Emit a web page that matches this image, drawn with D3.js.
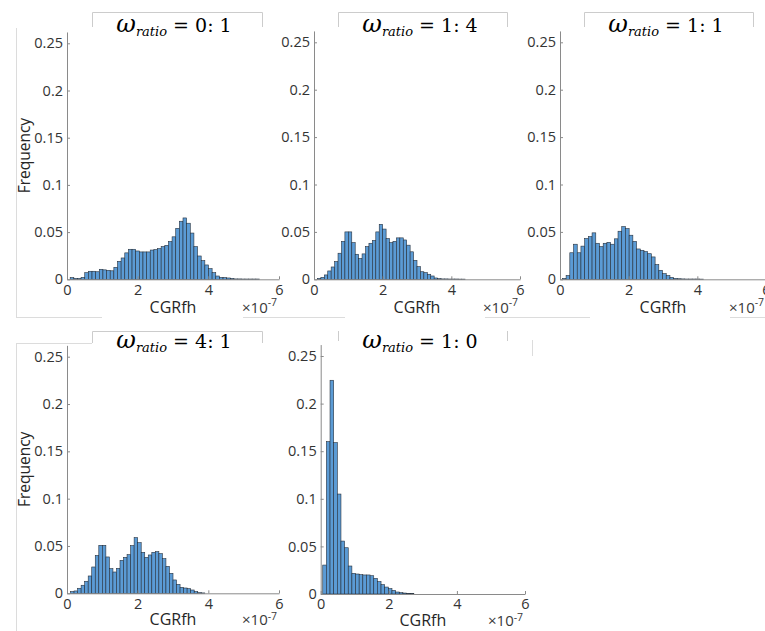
<!DOCTYPE html>
<html><head><meta charset="utf-8">
<script src="https://cdn.jsdelivr.net/npm/d3@7"></script>
<style>body{margin:0;background:#fff}svg{display:block}</style>
</head><body><svg id="c" width="765" height="631"></svg>
<script>
// ---------------- data ----------------
const ratioLabels = ["0: 1", "1: 4", "1: 1", "4: 1", "1: 0"];
const xTicks = [0, 2, 4, 6];
const xTickLabels = ["0", "2", "4", "6"];
const yTicks = [0, 0.05, 0.1, 0.15, 0.2, 0.25];
const yTickLabels = ["0", "0.05", "0.1", "0.15", "0.2", "0.25"];
const xLabel = "CGRfh";
const yLabel = "Frequency";
// bin edges in units of 1e-7
const binStart = [0.09, 0.1, 0.07, 0.1, 0.06];
const binWidth = [0.103, 0.1, 0.108, 0.1, 0.107];
const freq01 = [0.0018,0.001,0.001,0.002,0.007,0.0085,0.0085,0.008,0.0106,0.01,0.0095,0.009,0.0127,0.019,0.0226,0.028,0.0318,0.0318,0.030,0.029,0.029,0.029,0.031,0.0315,0.0325,0.0346,0.036,0.040,0.045,0.054,0.0615,0.065,0.0594,0.049,0.0346,0.0247,0.0198,0.0152,0.0113,0.007,0.0035,0.002,0.0018,0.0014,0.001,0.0004,0.0004,0.0003,0.0003,0.0003,0.0003,0.0003];
const freq14 = [0.001,0.002,0.0046,0.0088,0.013,0.0187,0.0275,0.040,0.050,0.050,0.0387,0.0264,0.022,0.0268,0.0345,0.038,0.041,0.050,0.058,0.053,0.043,0.0387,0.040,0.0437,0.0437,0.0415,0.036,0.029,0.020,0.0134,0.008,0.007,0.0053,0.0035,0.0014,0.0007,0.0004,0.0004,0.0003,0.0003,0.0003,0.0002,0.0002];
const freq11 = [0.001,0.004,0.028,0.037,0.028,0.035,0.043,0.045,0.049,0.038,0.0345,0.038,0.039,0.037,0.0427,0.0507,0.0556,0.0535,0.0465,0.040,0.032,0.0306,0.0292,0.027,0.0236,0.0155,0.0095,0.006,0.004,0.002,0.001,0.0006,0.0004,0.0003,0.0003,0.0003,0.0003,0.0002];
const freq41 = [0.0018,0.0025,0.0053,0.0085,0.0127,0.0183,0.0278,0.040,0.0507,0.0507,0.0384,0.026,0.0225,0.0264,0.0348,0.038,0.0408,0.0504,0.0588,0.0535,0.0433,0.038,0.0405,0.0433,0.044,0.0419,0.0366,0.0285,0.0211,0.0141,0.0095,0.0063,0.0056,0.0049,0.0035,0.0018,0.0007,0.0004];
const freq10 = [0.0304,0.160,0.2245,0.159,0.105,0.0556,0.0486,0.0294,0.0217,0.021,0.0203,0.020,0.020,0.0192,0.0164,0.013,0.0098,0.0073,0.0056,0.0038,0.0021,0.0014,0.001,0.0006,0.0004];
const seriesList = [freq01, freq14, freq11, freq41, freq10];

// ---------------- layout ----------------
const layout = [
  {x0:67,    x1:279, y0:279.3, y25:43.3,  tx:174, ty:32.3,  lab:34, sup:-7, box:[92,262,12,27,true],  ylab:true},
  {x0:314,   x1:520, y0:279.3, y25:42.3,  tx:420, ty:32.3,  lab:34, sup:-7, box:[338,507,12,27,true]},
  {x0:560,   x1:766, y0:279.3, y25:42.3,  tx:666, ty:32.3,  lab:34, sup:-7, box:[584,753,12,27,true]},
  {x0:67,    x1:279, y0:593.3, y25:356.7, tx:174, ty:348.3, lab:32, sup:-5, box:[92,262,331,343,true], ylab:true},
  {x0:320.7, x1:525, y0:594,   y25:356,   tx:420, ty:348.3, lab:31.5, sup:-4.5, box:[338,507,331,341,false]}
];
const FONT = "'Open Sans', 'DejaVu Sans', sans-serif";
const svg = d3.select("#c");

// faint screenshot frame lines
const frame = svg.append("g").attr("stroke", "#dcdcdc").attr("stroke-width", 1).attr("fill", "none");
[[16.5,28,16.5,317],[16,317.5,102,317.5],[243,317.5,345,317.5],[485,317.5,590,317.5],[730,317.5,765,317.5],
 [16.5,343,16.5,631],[16,343.5,92,343.5],[532.5,340,532.5,356]].forEach(l=>{
  frame.append("line").attr("x1",l[0]).attr("y1",l[1]).attr("x2",l[2]).attr("y2",l[3]);
});

layout.forEach((L, p) => {
  const data = seriesList[p];
  const g = svg.append("g");
  const ymax = 0.262;
  const x = d3.scaleLinear().domain([0, 6]).range([L.x0, L.x1]);
  const y = d3.scaleLinear().domain([0, ymax]).range([L.y0, L.y0 - ymax * (L.y0 - L.y25) / 0.25]);

  // title box (light frame)
  const b = L.box;
  const bp = b[4] ? `M${b[0]+0.5},${b[3]}V${b[2]+0.5}H${b[1]+0.5}V${b[3]}` : `M${b[0]+0.5},${b[3]}V${b[2]}M${b[1]+0.5},${b[2]}V${b[3]}`;
  g.append("path").attr("d", bp).attr("fill", "none").attr("stroke", "#cccccc").attr("stroke-width", 1);

  // bars
  const bins = data.map((v, i) => ({x0: binStart[p] + i * binWidth[p], x1: binStart[p] + (i + 1) * binWidth[p], v}));
  g.append("g").selectAll("rect").data(bins).join("rect")
    .attr("x", d => x(d.x0)).attr("width", d => x(d.x1) - x(d.x0))
    .attr("y", d => y(d.v)).attr("height", d => y(0) - y(d.v))
    .attr("fill", "#5b9bd5").attr("stroke", "#26303c").attr("stroke-width", 0.6);

  // axes
  const yAxis = d3.axisLeft(y).tickValues(yTicks).tickFormat((d, i) => yTickLabels[i])
    .tickSizeInner(-3).tickSizeOuter(0).tickPadding(4);
  const xAxis = d3.axisBottom(x).tickValues(xTicks).tickFormat((d, i) => xTickLabels[i])
    .tickSizeInner(-3).tickSizeOuter(0).tickPadding(5);
  const ya = g.append("g").attr("transform", `translate(${L.x0},0)`).call(yAxis);
  const xa = g.append("g").attr("transform", `translate(0,${L.y0})`).call(xAxis);
  [ya, xa].forEach(a => {
    a.select(".domain").attr("stroke", "#8a8a8a");
    a.selectAll(".tick line").attr("stroke", "#8a8a8a");
    a.selectAll(".tick text").attr("fill", "#333333").style("font-family", FONT).style("font-size", "14.5px");
  });

  // x label and exponent
  g.append("text").attr("x", (L.x0 + L.x1) / 2).attr("y", L.y0 + L.lab).attr("text-anchor", "middle")
    .style("font-family", FONT).style("font-size", "16px").attr("fill", "#262626").text(xLabel);
  const ex = g.append("text").attr("x", L.x1 - 37).attr("y", L.y0 + L.lab)
    .style("font-family", FONT).style("font-size", "15px").attr("fill", "#3a3a3a");
  ex.append("tspan").text("\u00d710");
  ex.append("tspan").attr("dy", L.sup).style("font-size", "10.5px").text("-7");

  // y label
  if (L.ylab) {
    const cy = (y(0) + y(ymax)) / 2;
    g.append("text").attr("transform", `translate(30,${cy}) rotate(-90)`).attr("text-anchor", "middle")
      .style("font-family", FONT).style("font-size", "15.5px").attr("fill", "#262626").text(yLabel);
  }

  // title
  const t = g.append("text").attr("x", L.tx).attr("y", L.ty).attr("text-anchor", "middle")
    .style("font-family", "'DejaVu Serif', 'Liberation Serif', serif").style("font-size", "19px").attr("fill", "#000");
  t.append("tspan").style("font-style", "italic").style("font-size", "24px").text("\u03c9");
  t.append("tspan").style("font-style", "italic").style("font-size", "13px").attr("dy", 4).text("ratio");
  t.append("tspan").attr("dy", -4).text(" = " + ratioLabels[p]);
});
</script></body></html>
